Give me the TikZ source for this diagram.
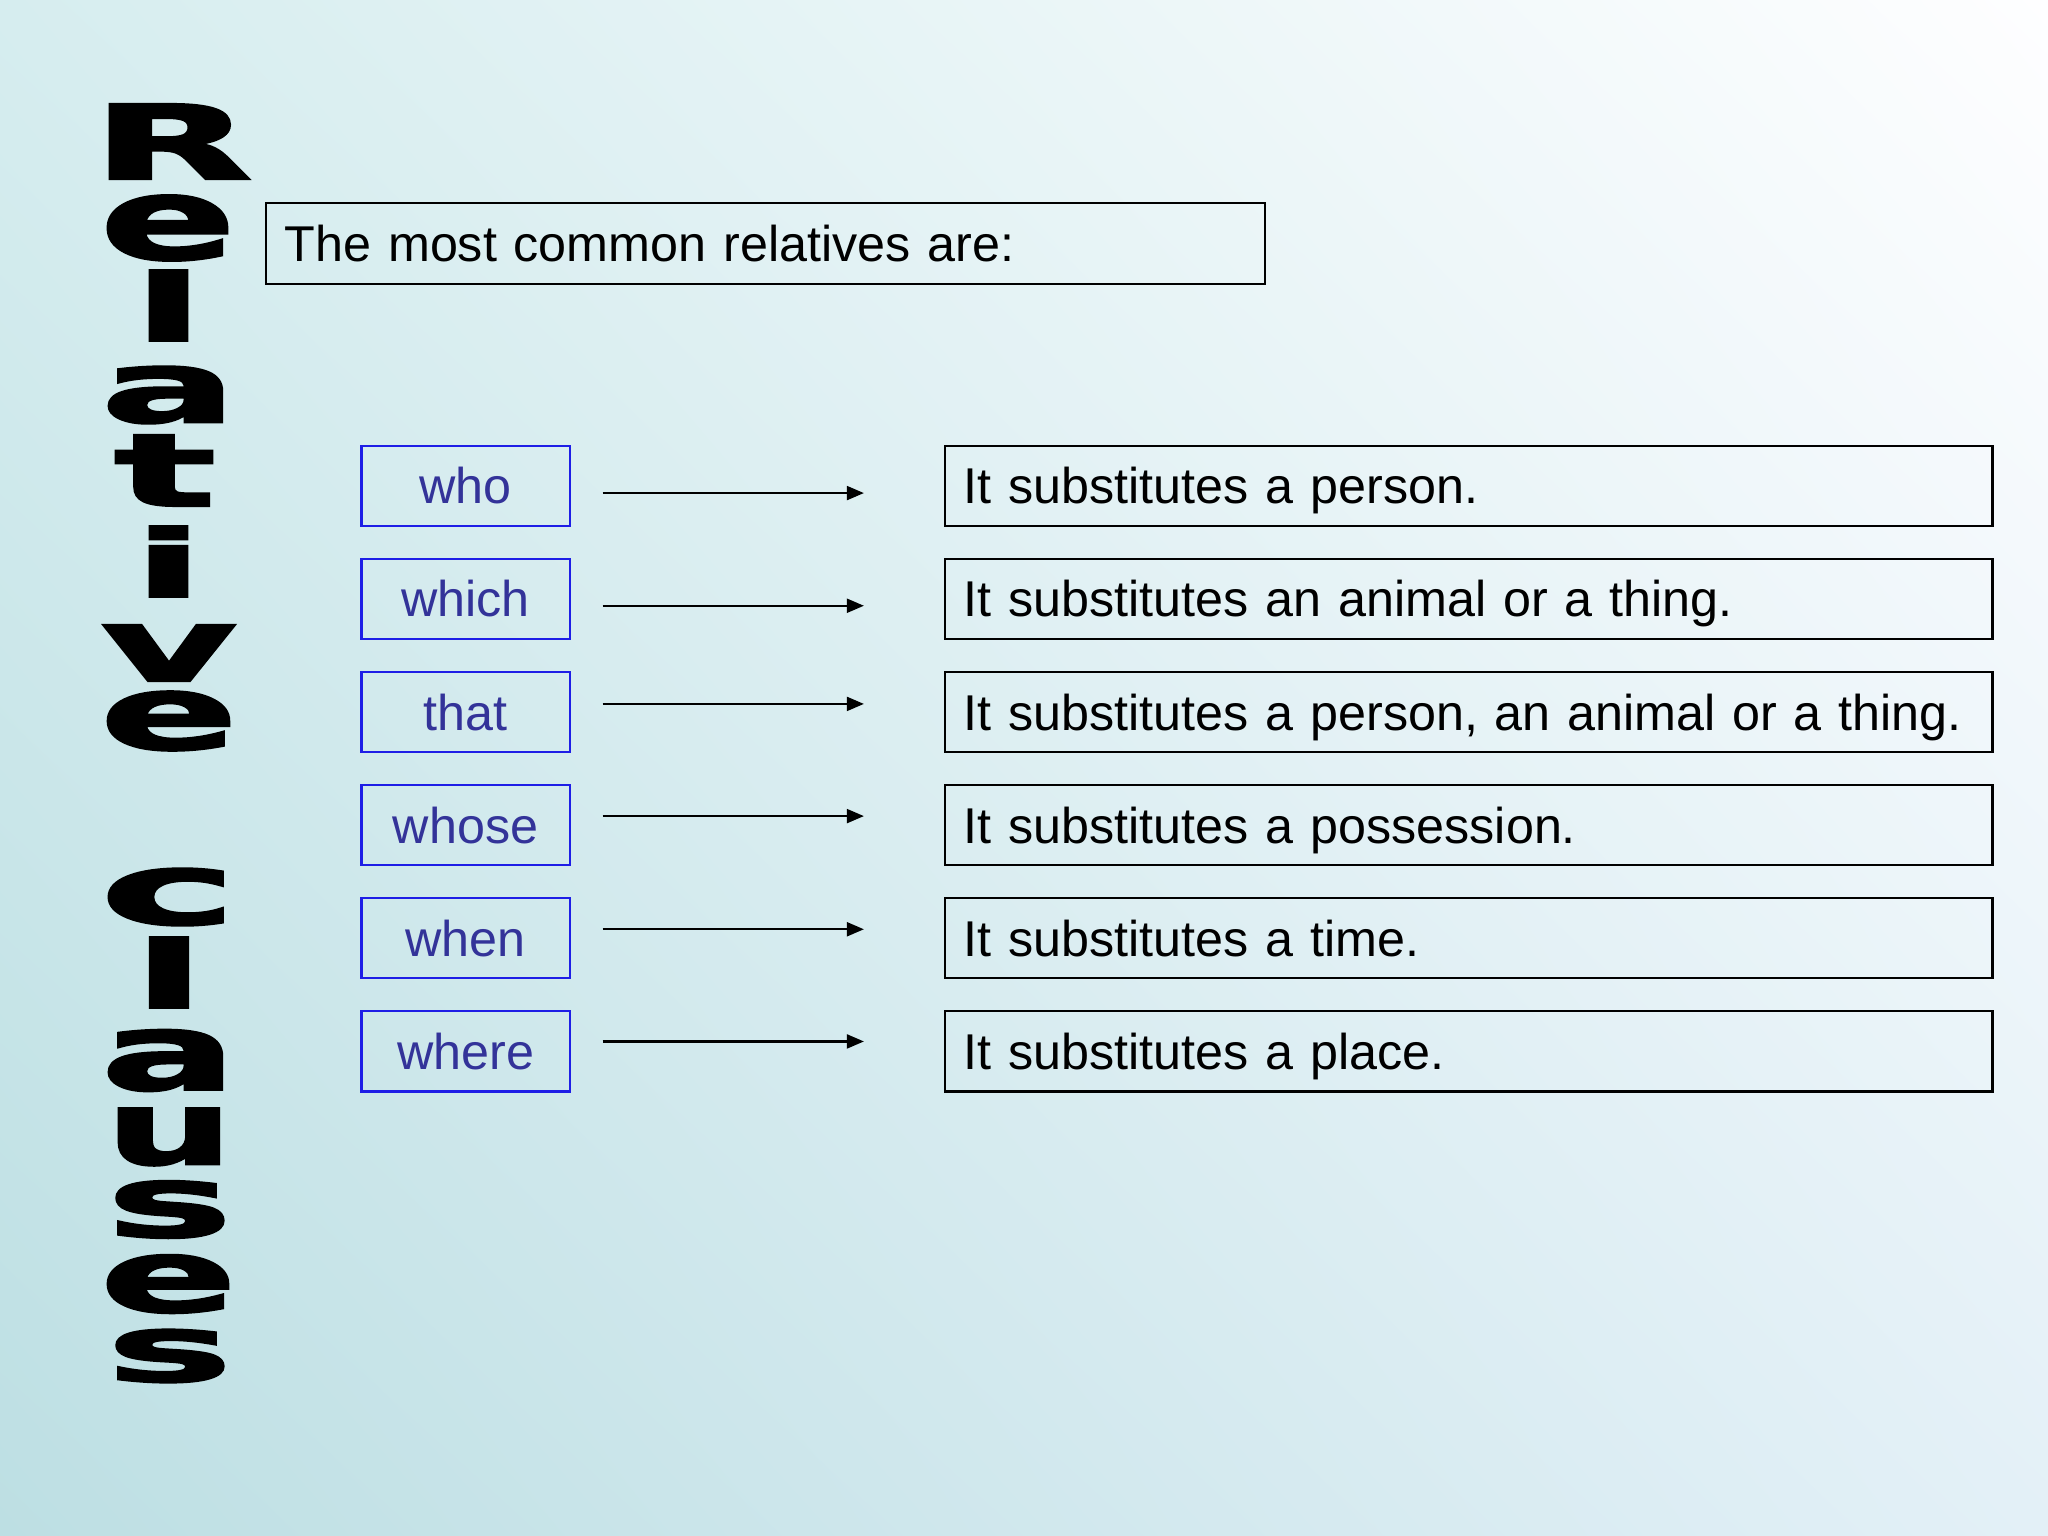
\documentclass[tikz,border=0pt]{standalone}
\usepackage{fontspec}
\usepackage{graphicx}
\usepackage{xcolor}
\usepackage{tikz}
\usetikzlibrary{matrix,calc,arrows.meta,shadings}
\setmainfont{Liberation Sans}
\newfontfamily\wordart{DejaVu Sans}[BoldFeatures={FakeBold=2}]
\definecolor{bgUL}{HTML}{D6EDEF}
\definecolor{bgUR}{HTML}{FEFEFF}
\definecolor{bgLL}{HTML}{BDDFE3}
\definecolor{bgLR}{HTML}{E3F0F7}
\definecolor{wordblue}{HTML}{1E1EE6}
\definecolor{wordtext}{HTML}{333399}
\tikzset{
  arr/.style={line width=0.6pt, -{Triangle[length=0.17cm,width=0.14cm]}, shorten <=0.33cm, shorten >=0.81cm},
  ltr/.style={inner sep=0pt, outer sep=0pt, font=\wordart\bfseries}
}

\begin{document}
\begin{tikzpicture}[x=0.01cm,y=-0.01cm,font=\fontsize{14.3}{17}\selectfont]
\useasboundingbox (0,0) rectangle (2048,1536);
\shade[upper left=bgUL, upper right=bgUR, lower left=bgLL, lower right=bgLR] (0,0) rectangle (2048,1536);
\foreach \l/\cx/\cy/\w/\h [count=\k] in {R/172/141.5/16.1/7.5, e/168/228/13.6/6.4, l/168.5/305.5/7.0/7.1, a/169/395/13.6/5.6, t/165/470.5/10.2/7.1, i/168.5/561.5/7.0/7.1, v/169/653/13.6/5.6, e/169/721/13.8/5.8, c/168.5/897/13.7/5.6, l/169/972.5/7.1/7.1, a/169/1060.5/13.6/6.0, u/169.5/1137/12.8/5.6, s/169.5/1209.5/12.6/5.6, e/168.5/1284/13.7/5.7, s/169.5/1356/12.6/5.2}
  \node[ltr] (ttl\k) at (\cx,\cy) {\resizebox{\w mm}{\h mm}{\l}};
\node[draw, line width=0.6pt, minimum height=0.81cm, text width=9.61cm, inner xsep=0.19cm, inner ysep=0pt, align=left, text height=10.3pt, text depth=0pt] (head) at (765.5,243.5) {The most common relatives are:};
\matrix[matrix of nodes, inner sep=0pt, outer sep=0pt, column sep=3.73cm, row sep=0.31cm, nodes={draw, line width=0.6pt, minimum height=0.80cm, inner sep=0pt, outer sep=0pt, text height=10.3pt, text depth=0pt}, column 1/.style={nodes={draw=wordblue, text=wordtext, minimum width=2.08cm}}, column 2/.style={nodes={text width=10.09cm, inner xsep=0.19cm, align=left}}] (m) at (1177,768.5) {
 who & It substitutes a person. \\
 which & It substitutes an animal or a thing. \\
 that & It substitutes a person, an animal or a thing. \\
 whose & It substitutes a possession. \\
 when & It substitutes a time. \\
 where & It substitutes a place. \\
};
\foreach \r/\dy in {1/7.5,2/7,3/-8,4/-9,5/-9,6/-10}
  \draw[arr] ($(m-\r-1.east)+(0,\dy)$) -- ($(m-\r-2.west)+(0,\dy)$);
\end{tikzpicture}
\end{document}
